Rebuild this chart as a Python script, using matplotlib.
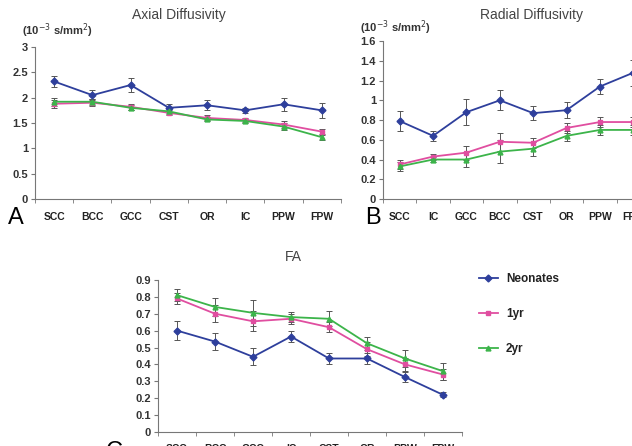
import matplotlib
matplotlib.use("Agg")
import matplotlib.pyplot as plt
import numpy as np

plt.rcParams['font.family'] = ['Liberation Sans', 'DejaVu Sans']

series_names = ["Neonates", "1yr", "2yr"]
colors = ["#2e3f9c", "#e04ea0", "#3cb44a"]
markers = ["D", "s", "^"]

# Axial diffusivity (10^-3 s/mm^2)
axial_cats = ["SCC", "BCC", "GCC", "CST", "OR", "IC", "PPW", "FPW"]
axial_neo = [2.32, 2.05, 2.25, 1.80, 1.85, 1.75, 1.87, 1.75]
axial_neo_err = [0.10, 0.10, 0.13, 0.08, 0.10, 0.05, 0.13, 0.15]
axial_1yr = [1.88, 1.90, 1.82, 1.70, 1.60, 1.56, 1.47, 1.33]
axial_1yr_err = [0.08, 0.07, 0.06, 0.05, 0.05, 0.04, 0.07, 0.05]
axial_2yr = [1.92, 1.92, 1.80, 1.73, 1.57, 1.54, 1.43, 1.22]
axial_2yr_err = [0.08, 0.06, 0.05, 0.05, 0.04, 0.04, 0.07, 0.05]

# Radial diffusivity (10^-3 s/mm^2)
radial_cats = ["SCC", "IC", "GCC", "BCC", "CST", "OR", "PPW", "FPW"]
radial_neo = [0.79, 0.64, 0.88, 1.00, 0.87, 0.90, 1.14, 1.28]
radial_neo_err = [0.10, 0.05, 0.13, 0.10, 0.07, 0.08, 0.08, 0.13]
radial_1yr = [0.35, 0.43, 0.47, 0.58, 0.57, 0.72, 0.78, 0.78]
radial_1yr_err = [0.05, 0.03, 0.07, 0.09, 0.05, 0.05, 0.05, 0.05]
radial_2yr = [0.33, 0.40, 0.40, 0.48, 0.51, 0.64, 0.70, 0.70]
radial_2yr_err = [0.05, 0.03, 0.08, 0.12, 0.07, 0.05, 0.05, 0.05]

# Fractional anisotropy
fa_cats = ["SCC", "BCC", "GCC", "IC", "CST", "OR", "PPW", "FPW"]
fa_neo = [0.60, 0.535, 0.445, 0.565, 0.435, 0.435, 0.325, 0.22]
fa_neo_err = [0.055, 0.05, 0.05, 0.03, 0.035, 0.035, 0.03, 0.015]
fa_1yr = [0.79, 0.70, 0.655, 0.67, 0.62, 0.49, 0.40, 0.34]
fa_1yr_err = [0.03, 0.05, 0.06, 0.03, 0.03, 0.04, 0.04, 0.03]
fa_2yr = [0.81, 0.74, 0.705, 0.68, 0.67, 0.525, 0.435, 0.36]
fa_2yr_err = [0.035, 0.055, 0.075, 0.03, 0.045, 0.04, 0.05, 0.05]


def draw_panel(ax, cats, vals, errs, yticks):
    x = np.arange(len(cats))
    for v, e, c, m, n in zip(vals, errs, colors, markers, series_names):
        ax.plot(x, v, color=c, marker=m, ms=3.5, lw=1.3, label=n, zorder=3)
        ax.errorbar(x, v, yerr=e, fmt='none', ecolor='#555555', elinewidth=0.7,
                    capsize=2, capthick=0.7, zorder=2)
    ax.set_xlim(-0.5, len(cats) - 0.5)
    ax.set_ylim(0, yticks[-1])
    ax.set_yticks(yticks)
    ax.set_yticklabels(["%g" % t for t in yticks], fontsize=8, fontweight='bold', color='#333333')
    ax.set_xticks(x)
    ax.set_xticklabels(cats, fontsize=7.5, fontweight='bold', color='#222222')
    ax.set_xticks(np.arange(len(cats) + 1) - 0.5, minor=True)
    ax.tick_params(axis='x', which='major', length=0, pad=9)
    ax.tick_params(axis='x', which='minor', length=3, color='#777777', direction='out')
    ax.tick_params(axis='y', length=3, color='#777777', pad=2)
    for s in ['top', 'right']:
        ax.spines[s].set_visible(False)
    for s in ['left', 'bottom']:
        ax.spines[s].set_color('#777777')
        ax.spines[s].set_linewidth(0.8)


fig = plt.figure(figsize=(6.32, 4.46), dpi=100)

axA = fig.add_axes([0.0554, 0.5538, 0.484, 0.3408])
draw_panel(axA, axial_cats, [axial_neo, axial_1yr, axial_2yr],
           [axial_neo_err, axial_1yr_err, axial_2yr_err], np.arange(0, 3.01, 0.5))

axB = fig.add_axes([0.606, 0.5538, 0.4225, 0.354])
draw_panel(axB, radial_cats, [radial_neo, radial_1yr, radial_2yr],
           [radial_neo_err, radial_1yr_err, radial_2yr_err], np.round(np.arange(0, 1.61, 0.2), 1))

axC = fig.add_axes([0.25, 0.0314, 0.481, 0.341])
draw_panel(axC, fa_cats, [fa_neo, fa_1yr, fa_2yr],
           [fa_neo_err, fa_1yr_err, fa_2yr_err], np.round(np.arange(0, 0.91, 0.1), 1))

# titles and units
fig.text(179 / 632, 1 - 15 / 446, "Axial Diffusivity", ha='center', va='center', fontsize=10, color='#444444')
fig.text(531 / 632, 1 - 15 / 446, "Radial Diffusivity", ha='center', va='center', fontsize=10, color='#444444')
fig.text(293 / 632, 1 - 257 / 446, "FA", ha='center', va='center', fontsize=10, color='#444444')
fig.text(22 / 632, 1 - 31 / 446, r"(10$^{-3}$ s/mm$^2$)", ha='left', va='center', fontsize=8, fontweight='bold', color='#333333')
fig.text(360 / 632, 1 - 28 / 446, r"(10$^{-3}$ s/mm$^2$)", ha='left', va='center', fontsize=8, fontweight='bold', color='#333333')

# panel letters
fig.text(8 / 632, 1 - 218 / 446, "A", ha='left', va='center', fontsize=17)
fig.text(365 / 632, 1 - 218 / 446, "B", ha='left', va='center', fontsize=17)
fig.text(106 / 632, 1 - 452 / 446, "C", ha='left', va='center', fontsize=17)

# legend
leg = axC.legend(loc='upper left', bbox_to_anchor=(1.02, 1.113), frameon=False,
                 fontsize=8.5, labelspacing=1.94, handlelength=1.6, handletextpad=0.7)
for t in leg.get_texts():
    t.set_fontweight('bold')
    t.set_color('#222222')

fig.savefig("out.png", dpi=100)
